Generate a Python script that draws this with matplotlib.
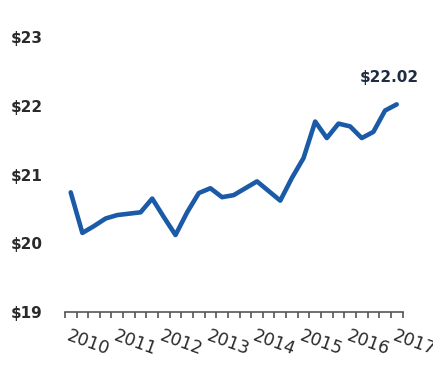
import numpy as np
import matplotlib.pyplot as plt
from matplotlib.ticker import FixedLocator

# quarterly average value, 2010 Q1 .. 2017 Q1
quarters = np.arange(29)
values = [20.74, 20.15, 20.25, 20.36, 20.41, 20.43, 20.45, 20.65, 20.38, 20.12,
          20.45, 20.73, 20.80, 20.67, 20.70, 20.80, 20.90, 20.76, 20.62, 20.95,
          21.24, 21.77, 21.53, 21.74, 21.70, 21.53, 21.62, 21.93, 22.02]
years = ['2010', '2011', '2012', '2013', '2014', '2015', '2016', '2017']
y_ticks = [19, 20, 21, 22, 23]
y_labels = ['$19', '$20', '$21', '$22', '$23']

line_col = '#1b5aa7'
text_col = '#2a2a2a'

fig = plt.figure(figsize=(4.33, 3.71), dpi=100)
ax = fig.add_axes([64.9 / 433, 59 / 371, 337.6 / 433, 275 / 371])

ax.plot(quarters, values, color=line_col, lw=3.3, solid_capstyle='round',
        solid_joinstyle='round')

ax.set_xlim(-0.5, 28.5)
ax.set_ylim(19, 23)

for s in ['top', 'right', 'left']:
    ax.spines[s].set_visible(False)
ax.spines['bottom'].set_color('#555555')
ax.spines['bottom'].set_linewidth(1.2)

# y labels
ax.set_yticks(y_ticks)
ax.set_yticklabels(y_labels)
ax.tick_params(axis='y', length=0, pad=16, labelsize=11, labelcolor=text_col)
for t in ax.get_yticklabels():
    t.set_fontweight('bold')

# year labels at each Q1, tick marks at quarter boundaries
ax.xaxis.set_major_locator(FixedLocator(np.arange(len(years)) * 4))
ax.set_xticklabels(years)
ax.xaxis.set_minor_locator(FixedLocator(np.arange(-0.5, 29, 1)))
ax.tick_params(axis='x', which='major', length=0, pad=11, labelsize=12.5,
               labelcolor=text_col)
ax.tick_params(axis='x', which='minor', length=4, width=1.2, color='#555555',
               direction='out')
for t in ax.get_xticklabels():
    t.set_rotation(-20)
    t.set_ha('left')
    t.set_va('top')
    t.set_rotation_mode('anchor')
    t.set_fontweight('medium')

# last value callout
ax.annotate(f'${values[-1]:.2f}', xy=(quarters[-1], values[-1]),
            xytext=(-5, 14), textcoords='offset points', ha='center',
            va='bottom', fontsize=11, fontweight='bold', color='#1f2d42')

fig.savefig('out.png', dpi=100)
